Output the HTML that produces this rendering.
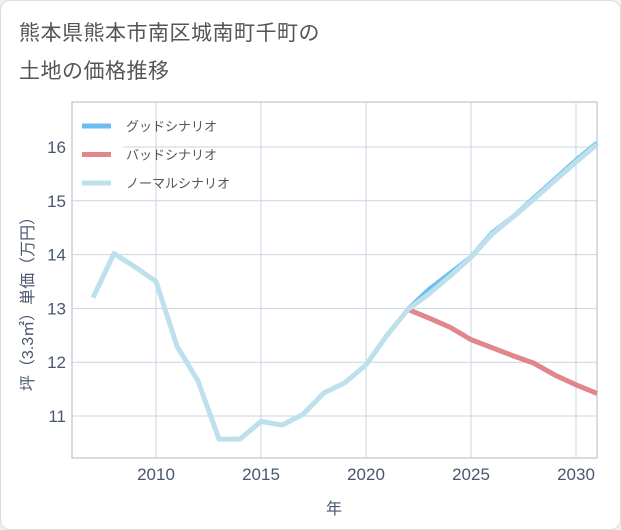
<!DOCTYPE html>
<html><head><meta charset="utf-8"><style>
body{margin:0;background:#f0f0f0;font-family:"Liberation Sans","Noto Sans CJK JP",sans-serif}
#card{position:absolute;left:0;top:0;width:619px;height:528px;background:#fff;border:1px solid #ddd;border-radius:10px}
#title{position:absolute;left:18px;top:14px;font-size:21px;line-height:38px;color:#555;letter-spacing:0.5px}
svg{position:absolute;left:0;top:0}
text{font-family:"Liberation Sans","Noto Sans CJK JP",sans-serif}
</style></head><body>
<div id="card">
<div id="title">熊本県熊本市南区城南町千町の<br>土地の価格推移</div>
</div>
<svg id="chart" width="621" height="530"></svg>
<script>
const years=[2007,2008,2009,2010,2011,2012,2013,2014,2015,2016,2017,2018,2019,2020,2021,2022,2023,2024,2025,2026,2027,2028,2029,2030,2031];
const normalValues=[13.2,14.02,13.77,13.5,12.3,11.65,10.57,10.57,10.9,10.83,11.03,11.43,11.62,11.95,12.5,12.98,13.27,13.6,13.95,14.38,14.7,15.03,15.38,15.72,16.05];
const futureYears=[2022,2023,2024,2025,2026,2027,2028,2029,2030,2031];
const goodValues=[12.98,13.35,13.65,13.95,14.4,14.7,15.05,15.4,15.75,16.07];
const badValues=[12.98,12.82,12.65,12.42,12.27,12.12,11.98,11.76,11.58,11.42];
const xTicks=[2010,2015,2020,2025,2030];
const yTicks=[11,12,13,14,15,16];
const legendLabels=["グッドシナリオ","バッドシナリオ","ノーマルシナリオ"];
const L=72,R=597,T=102,B=458;
const x=v=>156+(v-2010)*21;
const y=v=>147+(16-v)*53.8;
const svg=document.getElementById('chart');
const NS='http://www.w3.org/2000/svg';
function mk(t,a,p){const e=document.createElementNS(NS,t);for(const k in a)e.setAttribute(k,a[k]);(p||svg).appendChild(e);return e;}
const frame=mk('rect',{x:L,y:T,width:R-L,height:B-T,fill:'none',stroke:'#b0b8c4','stroke-width':1});


xTicks.forEach(v=>{
 const g=mk('line',{x1:x(v),x2:x(v),y1:T,y2:B,stroke:'#c8d4e2','stroke-width':1});
 
 
 const t=mk('text',{x:x(v),y:B+22,'text-anchor':'middle','font-size':17,fill:'#4a5670'});t.textContent=v;
 
 
});
yTicks.forEach(v=>{
 const g=mk('line',{x1:L,x2:R,y1:y(v),y2:y(v),stroke:'#c8d4e2','stroke-width':1});
 
 
 const t=mk('text',{x:L-6,y:y(v)+6,'text-anchor':'end','font-size':17,fill:'#4a5670'});t.textContent=v;
 
 
});
const lb=mk('rect',{x:L+1,y:T+1,width:50,height:97,fill:'#fff'});


function line(xs,vs,c,n){const p=mk('polyline',{points:xs.map((v,i)=>x(v)+','+y(vs[i])).join(' '),fill:'none',stroke:c,'stroke-width':5,'stroke-linejoin':'round'});
 
 }
line(futureYears,goodValues,'#6bbdf2','good-scenario-line');
line(futureYears,badValues,'#e0868c','bad-scenario-line');
line(years,normalValues,'#bde0ec','normal-scenario-line');
const lc=['#6bbdf2','#e0868c','#bde0ec'];
legendLabels.forEach((s,i)=>{
 const yy=126+i*28.5;
 const sw=mk('line',{x1:82,x2:111,y1:yy,y2:yy,stroke:lc[i],'stroke-width':5});
 
 
 const t=mk('text',{x:126,y:yy+5,'font-size':13,fill:'#555'});t.textContent=s;
 
 
});
const xt=mk('text',{x:334,y:514,'text-anchor':'middle','font-size':16,fill:'#4a5670'});xt.textContent='年';


const yt=mk('text',{x:0,y:0,'text-anchor':'middle','font-size':16,fill:'#4a5670',transform:'translate(33,300) rotate(-90)'});yt.textContent='坪（3.3㎡）単価（万円）';


</script>
</body></html>
